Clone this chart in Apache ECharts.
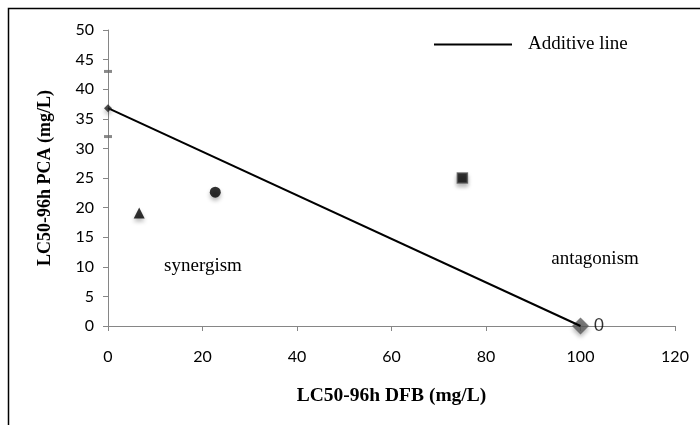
<!DOCTYPE html>
<html lang="en">
<head>
    <meta charset="UTF-8">
    <title>LC50 isobologram</title>
    <script src="https://cdn.jsdelivr.net/npm/echarts@6/dist/echarts.min.js"></script>
</head>
<body style="margin:0;background:#fff">
    <div id="box" style="width:700px;height:425px;"></div>
    <script>
        // additive line end points (DFB, PCA)
        var additiveX = [0, 100];
        var additiveY = [36.8, 0];
        // mixture points
        var trianglePt = [6.6, 19.1];
        var circlePt = [22.7, 22.6];
        var squarePt = [75, 25];
        // single compound LC50s
        var pcaPt = [0, 36.8];
        var dfbPt = [100, 0];
        var dfbLabel = '0';
        // confidence limits of PCA
        var pcaLimits = [[0, 43], [0, 32]];

        var serif = '"Liberation Serif", "Times New Roman", serif';
        var sans = 'Lato, "Liberation Sans", sans-serif';
        var shadow = { shadowColor: 'rgba(0,0,0,0.35)', shadowBlur: 4, shadowOffsetY: 3 };

        var chart = echarts.init(document.getElementById('box'));
        chart.setOption({
            animation: false,
            grid: { left: 108, right: 25, top: 30, bottom: 99 },
            legend: {
                data: ['Additive line'],
                left: 429, top: 30,
                icon: 'rect', itemWidth: 78, itemHeight: 2,
                textStyle: { fontFamily: serif, fontSize: 19, color: '#000', padding: [0, 0, 0, 11] }
            },
            xAxis: {
                type: 'value', min: 0, max: 120, interval: 20,
                name: 'LC50-96h DFB (mg/L)', nameLocation: 'middle', nameGap: 60,
                nameTextStyle: { fontFamily: serif, fontSize: 19.5, fontWeight: 'bold', color: '#000' },
                axisLine: { lineStyle: { color: '#868686' } },
                axisTick: { show: true, length: 5, lineStyle: { color: '#868686' } },
                axisLabel: { fontFamily: sans, fontSize: 16, color: '#000', margin: 23 },
                splitLine: { show: false }
            },
            yAxis: {
                type: 'value', min: 0, max: 50, interval: 5,
                name: 'LC50-96h PCA (mg/L)', nameLocation: 'middle', nameGap: 54,
                nameTextStyle: { fontFamily: serif, fontSize: 18, fontWeight: 'bold', color: '#000' },
                axisLine: { show: true, lineStyle: { color: '#868686' } },
                axisTick: { show: true, length: 5, lineStyle: { color: '#868686' } },
                axisLabel: { fontFamily: sans, fontSize: 16, color: '#000', margin: 14 },
                splitLine: { show: false }
            },
            graphic: [
                { type: 'rect', shape: { x: 8.5, y: 8.5, width: 700, height: 430 }, style: { fill: 'none', stroke: '#000', lineWidth: 1.5 }, silent: true },
                { type: 'text', x: 203, y: 266, style: { text: 'synergism', fontFamily: serif, fontSize: 19, fill: '#000', align: 'center', verticalAlign: 'middle' } },
                { type: 'text', x: 595, y: 259, style: { text: 'antagonism', fontFamily: serif, fontSize: 19, fill: '#000', align: 'center', verticalAlign: 'middle' } }
            ],
            series: [
                {
                    name: 'Additive line', type: 'line', symbol: 'none', z: 3,
                    lineStyle: { color: '#000', width: 2 }, itemStyle: { color: '#000' },
                    data: additiveX.map(function (x, i) { return [x, additiveY[i]]; })
                },
                {
                    type: 'scatter', symbol: 'rect', symbolSize: [8, 3], z: 4,
                    itemStyle: { color: '#6b6b6b' },
                    data: pcaLimits
                },
                {
                    type: 'scatter', symbol: 'diamond', symbolSize: 8, z: 5,
                    itemStyle: Object.assign({ color: '#222' }, shadow),
                    data: [pcaPt]
                },
                {
                    type: 'scatter', symbol: 'triangle', symbolSize: 11, z: 5,
                    itemStyle: Object.assign({ color: '#000' }, shadow),
                    data: [trianglePt]
                },
                {
                    type: 'scatter', symbol: 'circle', symbolSize: 11, z: 5,
                    itemStyle: Object.assign({ color: '#000' }, shadow),
                    data: [circlePt]
                },
                {
                    type: 'scatter', symbol: 'rect', symbolSize: 10, z: 5,
                    itemStyle: Object.assign({ color: '#000', borderColor: '#555', borderWidth: 1.5 }, shadow),
                    data: [squarePt]
                },
                {
                    type: 'scatter', symbol: 'diamond', symbolSize: 17, z: 2,
                    itemStyle: Object.assign({ color: '#5a5a5a' }, shadow),
                    label: {
                        show: true, position: 'right', distance: 5, formatter: dfbLabel,
                        fontFamily: sans, fontSize: 17, color: '#000'
                    },
                    data: [dfbPt]
                }
            ]
        });
    </script>
</body>
</html>
